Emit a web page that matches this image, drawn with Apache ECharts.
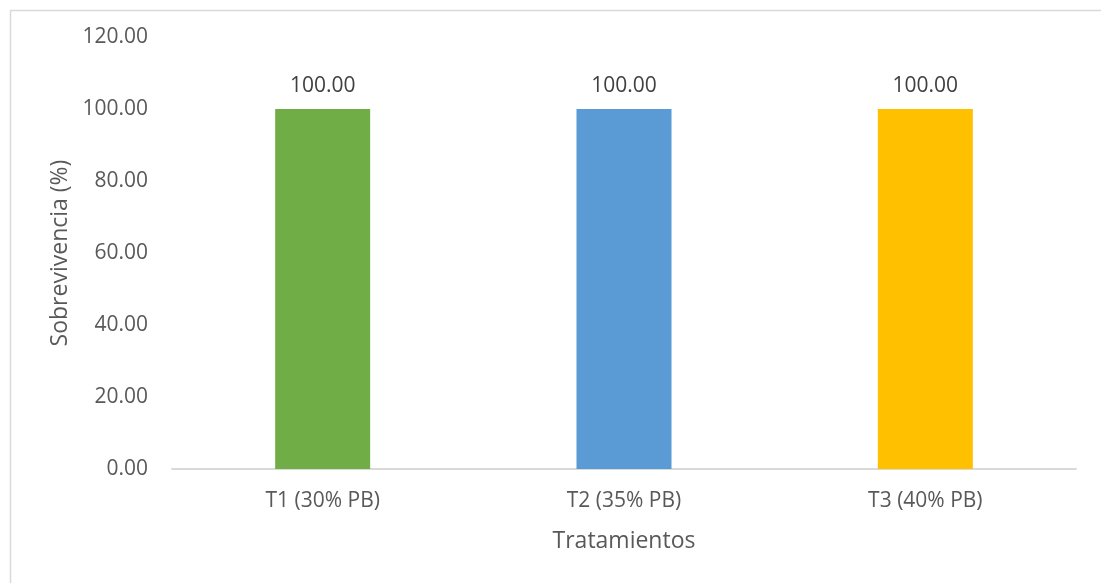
<!DOCTYPE html>
<html>
<head>
<meta charset="utf-8">
<script src="https://cdn.jsdelivr.net/npm/echarts@6/dist/echarts.min.js"></script>
<style>
  html, body { margin: 0; padding: 0; background: #ffffff; }
  #chart { width: 1101px; height: 583px; }
</style>
</head>
<body>
<div id="chart"></div>
<script>
// Survival per treatment (crude protein level)
const categories = ['T1 (30% PB)', 'T2 (35% PB)', 'T3 (40% PB)'];
const survival = [100.00, 100.00, 100.00];
const barColors = ['#70AD47', '#5B9BD5', '#FFC000'];

const textColor = '#595959';
const fontFamily = '"Open Sans", "Liberation Sans", sans-serif';

const chart = echarts.init(document.getElementById('chart'), null, { renderer: 'canvas' });

chart.setOption({
  animation: false,
  backgroundColor: '#ffffff',
  textStyle: { fontFamily: fontFamily, color: textColor },
  graphic: [{
    type: 'rect',
    left: 8, top: 8,
    shape: { width: 1100, height: 580 },
    style: { fill: 'none', stroke: '#d9d9d9', lineWidth: 1.5 },
    silent: true,
    z: -1
  }],
  grid: { left: 172, right: 25, top: 37, bottom: 114 },
  xAxis: {
    type: 'category',
    data: categories,
    name: 'Tratamientos',
    nameLocation: 'middle',
    nameGap: 61,
    nameTextStyle: { fontSize: 23, color: textColor, fontFamily: fontFamily },
    axisLine: { lineStyle: { color: '#d9d9d9', width: 2 } },
    axisTick: { show: false },
    axisLabel: { fontSize: 21, color: textColor, fontFamily: fontFamily, margin: 22 }
  },
  yAxis: {
    type: 'value',
    min: 0, max: 120, interval: 20,
    name: 'Sobrevivencia (%)',
    nameLocation: 'middle',
    nameGap: 100,
    nameRotate: 90,
    nameTextStyle: { fontSize: 23, color: textColor, fontFamily: fontFamily },
    axisLine: { show: false },
    axisTick: { show: false },
    splitLine: { show: false },
    axisLabel: {
      fontSize: 21, color: textColor, fontFamily: fontFamily, margin: 24,
      formatter: v => v.toFixed(2)
    }
  },
  series: [{
    type: 'bar',
    barWidth: 95,
    data: survival.map((v, i) => ({ value: v, itemStyle: { color: barColors[i] } })),
    label: {
      show: true,
      position: 'top',
      distance: 12,
      fontSize: 21,
      color: '#404040',
      fontFamily: fontFamily,
      formatter: p => p.value.toFixed(2)
    }
  }]
});
</script>
</body>
</html>
